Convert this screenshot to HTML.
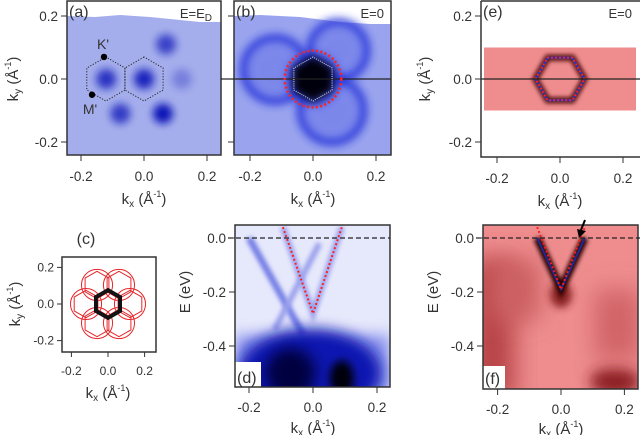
<!DOCTYPE html>
<html><head><meta charset="utf-8"><style>
html,body{margin:0;padding:0;background:#fff;}
svg{display:block;font-family:"Liberation Sans",sans-serif;}
text{fill:#333;}
</style></head><body>
<svg id="fig" width="640" height="435" viewBox="0 0 640 435" xmlns="http://www.w3.org/2000/svg">
<defs>
<filter id="b2" x="-50%" y="-50%" width="200%" height="200%"><feGaussianBlur stdDeviation="2"/></filter>
<filter id="b4" x="-50%" y="-50%" width="200%" height="200%"><feGaussianBlur stdDeviation="4"/></filter>
<filter id="b7" x="-50%" y="-50%" width="200%" height="200%"><feGaussianBlur stdDeviation="7"/></filter>
<filter id="b12" x="-50%" y="-50%" width="200%" height="200%"><feGaussianBlur stdDeviation="12"/></filter>
<clipPath id="ca"><rect x="67" y="1" width="154" height="154"/></clipPath>
<clipPath id="cb"><rect x="234" y="1" width="157" height="154"/></clipPath>
<clipPath id="cd"><rect x="235" y="225" width="155" height="162"/></clipPath>
<clipPath id="cf"><rect x="483" y="225" width="155" height="164"/></clipPath>
</defs>
<g id="root"></g>
</svg>
<script>
// ---- data ----
const kTicks = [-0.2, 0.0, 0.2];
const kTickLabels = ["-0.2", "0.0", "0.2"];
const eTicks = [0.0, -0.2, -0.4];
const eTickLabels = ["0.0", "-0.2", "-0.4"];
const aSpotsKx = [0.0, -0.12, -0.075, 0.06, 0.07, 0.12];
const aSpotsKy = [0.0, 0.0, -0.11, -0.11, 0.11, 0.0];
const aSpotsI  = [0.9, 0.8, 0.75, 1.0, 0.7, 0.3];
const aHexCx = [0.0, -0.121];
const aHexR = 0.07;
const aPointsKx = [-0.127, -0.165];
const aPointsKy = [0.07, -0.05];
const aPointsLbl = ["K'", "M'"];
const bRingKx = [-0.12, 0.06, 0.08, 0.0];
const bRingKy = [0.03, -0.1, 0.09, 0.0];
const bRingR  = [0.1, 0.1, 0.09, 0.07];
const bCircleR = 0.09;
const bHexR = 0.07;
const cAngles = [0, 60, 120, 180, 240, 300];
const cDist = 0.12;
const cCircR = 0.085;
const cHexR = 0.075;
const cCenterR = [0.07, 0.082];
const dVk = [-0.094, 0.0, 0.09];
const dVe = [0.04, -0.28, 0.04];
const dBandK1 = [-0.2, -0.03];
const dBandE1 = [0.0, -0.36];
const dBandK2 = [-0.12, 0.02];
const dBandE2 = [-0.34, -0.02];
const eHexR = 0.078;
const eBandKy = [0.1, -0.1];
const fVk = [-0.075, 0.0, 0.075];
const fVe = [0.04, -0.19, 0.04];

const NS = "http://www.w3.org/2000/svg";
const root = document.getElementById('root');
function mk(tag, attrs, parent, name) {
  const el = document.createElementNS(NS, tag);
  for (const k in attrs) el.setAttribute(k, attrs[k]);
  
  
  (parent || root).appendChild(el);
  return el;
}
function txt(x, y, s, size, anchor, parent, name, extra) {
  const t = mk('text', Object.assign({x: x, y: y, 'font-size': size, 'text-anchor': anchor || 'middle'}, extra || {}), parent, name);
  t.innerHTML = s;
  return t;
}
function axisX(k0px, scale) { return k => k0px + k * scale; }
function axisY(v0px, scale) { return v => v0px - v * scale; }
function hexPts(cx, cy, r, pointy, X, Y) {
  const pts = [];
  for (let i = 0; i < 6; i++) {
    const a = (pointy ? 90 : 0) + i * 60;
    const rad = a * Math.PI / 180;
    pts.push(X(cx + r * Math.cos(rad)).toFixed(1) + ',' + Y(cy + r * Math.sin(rad)).toFixed(1));
  }
  return pts.join(' ');
}
function frame(x, y, w, h, name) {
  mk('rect', {x: x, y: y, width: w, height: h, fill: 'none', stroke: '#333', 'stroke-width': 1.5}, root, name);
}
const TS = 13.5;
function xTicks(X, yBottom, labY, name) {
  kTicks.forEach((k, i) => {
    mk('line', {x1: X(k), x2: X(k), y1: yBottom, y2: yBottom + 6, stroke: '#333', 'stroke-width': 1}, root, name + '-tick');
    txt(X(k), labY, kTickLabels[i], TS, 'middle', root, name + '-tick-label');
  });
}
function yTicksK(Y, xLeft, name) {
  kTicks.forEach((k, i) => {
    mk('line', {x1: xLeft - 6, x2: xLeft, y1: Y(k), y2: Y(k), stroke: '#333', 'stroke-width': 1}, root, name + '-tick');
    txt(xLeft - 9, Y(k) + 5, kTickLabels[i], TS, 'end', root, name + '-tick-label');
  });
}
function yTicksE(Y, xLeft, name) {
  eTicks.forEach((e, i) => {
    mk('line', {x1: xLeft - 6, x2: xLeft, y1: Y(e), y2: Y(e), stroke: '#333', 'stroke-width': 1}, root, name + '-tick');
    txt(xLeft - 9, Y(e) + 5, eTickLabels[i], TS, 'end', root, name + '-tick-label');
  });
}
const kxLabel = 'k<tspan font-size="10" dy="3">x</tspan><tspan dy="-3"> (Å</tspan><tspan font-size="9" dy="-7">-1</tspan><tspan dy="7">)</tspan>';
const kyLabel = 'k<tspan font-size="10" dy="3">y</tspan><tspan dy="-3"> (Å</tspan><tspan font-size="9" dy="-7">-1</tspan><tspan dy="7">)</tspan>';
function xLabel(x, y, name) { txt(x, y, kxLabel, 15, 'middle', root, name); }
function yLabel(x, y, s, name) { txt(0, 0, s, 15, 'middle', root, name, {transform: 'translate(' + x + ',' + y + ') rotate(-90)'}); }

// ===== Panel (a) =====
(function(){
  const X = axisX(144, 315), Y = axisY(79, 315);
  const g = mk('g', {'clip-path': 'url(#ca)'}, root, 'panel-a-map');
  mk('rect', {x: 67, y: 1, width: 154, height: 154, fill: '#a5aeec'}, g, 'panel-a-background');
  mk('path', {d: 'M67,1 H221 V22 H200 L180,20 L150,17 L120,15 L95,17 L67,16 Z', fill: '#ffffff'}, g, 'panel-a-blank-edge');
  aSpotsKx.forEach((k, i) => {
    mk('circle', {cx: X(k), cy: Y(aSpotsKy[i]), r: 10, fill: '#0a18b8', opacity: aSpotsI[i], filter: 'url(#b4)'}, g, 'panel-a-spot');
  });
  aHexCx.forEach(c => {
    mk('polygon', {points: hexPts(c, 0, aHexR, true, X, Y), fill: 'none', stroke: '#222', 'stroke-width': 1, 'stroke-dasharray': '1.2,1.6'}, g, 'panel-a-brillouin-zone');
  });
  aPointsKx.forEach((k, i) => {
    mk('circle', {cx: X(k), cy: Y(aPointsKy[i]), r: 3.2, fill: '#000'}, g, 'panel-a-point-marker');
  });
  txt(X(aPointsKx[0]) - 1, Y(aPointsKy[0]) - 8, aPointsLbl[0], 14, 'middle', g, 'panel-a-label-k');
  txt(X(aPointsKx[1]) - 2, Y(aPointsKy[1]) + 19, aPointsLbl[1], 14, 'middle', g, 'panel-a-label-m');
  frame(67, 1, 154, 154, 'panel-a-frame');
  txt(69, 17, '(a)', 16, 'start', root, 'panel-a-tag');
  txt(212, 18, 'E=E<tspan font-size="10" dy="3">D</tspan>', 13, 'end', root, 'panel-a-energy-label');
  xTicks(X, 155, 181, 'panel-a-x');
  yTicksK(Y, 67, 'panel-a-y');
  xLabel(144, 204, 'panel-a-x-title');
  yLabel(18, 79, kyLabel, 'panel-a-y-title');
})();

// ===== Panel (b) =====
(function(){
  const X = axisX(313, 315), Y = axisY(79, 315);
  const g = mk('g', {'clip-path': 'url(#cb)'}, root, 'panel-b-map');
  mk('rect', {x: 234, y: 1, width: 157, height: 154, fill: '#9aa4ee'}, g, 'panel-b-background');
  mk('path', {d: 'M234,1 H391 V24 H370 L340,22 L300,17 L260,15 L234,16 Z', fill: '#ffffff'}, g, 'panel-b-blank-edge');
  bRingKx.forEach((k, i) => {
    mk('circle', {cx: X(k), cy: Y(bRingKy[i]), r: bRingR[i] * 315, fill: '#5866e6', opacity: 0.45, filter: 'url(#b7)'}, g, 'panel-b-ring-fill');
    mk('circle', {cx: X(k), cy: Y(bRingKy[i]), r: bRingR[i] * 315, fill: 'none', stroke: '#1c2ad8', 'stroke-width': 8, opacity: 0.75, filter: 'url(#b4)'}, g, 'panel-b-ring');
  });
  mk('polygon', {points: hexPts(0, 0, bHexR * 1.05, true, X, Y), fill: '#000010', filter: 'url(#b4)'}, g, 'panel-b-center-pocket');
  mk('line', {x1: 234, x2: 391, y1: Y(0), y2: Y(0), stroke: '#222', 'stroke-width': 1.2}, g, 'panel-b-cut-line');
  mk('polygon', {points: hexPts(0, 0, bHexR, true, X, Y), fill: 'none', stroke: '#ddd', 'stroke-width': 1, 'stroke-dasharray': '1,1.2'}, g, 'panel-b-white-hexagon');
  mk('circle', {cx: X(0), cy: Y(0), r: bCircleR * 315, fill: 'none', stroke: '#ff2020', 'stroke-width': 2.5, 'stroke-dasharray': '2,2.4'}, g, 'panel-b-red-circle');
  frame(234, 1, 157, 154, 'panel-b-frame');
  txt(236, 17, '(b)', 16, 'start', root, 'panel-b-tag');
  txt(384, 18, 'E=0', 13, 'end', root, 'panel-b-energy-label');
  xTicks(X, 155, 181, 'panel-b-x');
  kTicks.forEach(k => mk('line', {x1: 228, x2: 234, y1: Y(k), y2: Y(k), stroke: '#333'}, root, 'panel-b-y-tick'));
  mk('line', {x1: 221, x2: 234, y1: Y(0), y2: Y(0), stroke: '#222', 'stroke-width': 1.2}, root, 'panel-b-cut-line-ext');
  xLabel(313, 204, 'panel-b-x-title');
})();

// ===== Panel (e) =====
(function(){
  const X = axisX(560, 315), Y = axisY(79, 315);
  const g = mk('g', {}, root, 'panel-e-map');
  mk('rect', {x: 484, y: Y(eBandKy[0]), width: 152, height: Y(eBandKy[1]) - Y(eBandKy[0]), fill: '#ee8c8e'}, g, 'panel-e-band');
  mk('polygon', {points: hexPts(0, 0, eHexR, false, X, Y), fill: 'none', stroke: '#4a0808', 'stroke-width': 6, filter: 'url(#b2)'}, g, 'panel-e-hexagon-intensity');
  mk('polygon', {points: hexPts(0, 0, eHexR, false, X, Y), fill: 'none', stroke: '#2233cc', 'stroke-width': 2}, g, 'panel-e-hexagon-blue');
  mk('polygon', {points: hexPts(0, 0, eHexR, false, X, Y), fill: 'none', stroke: '#ff2020', 'stroke-width': 2, 'stroke-dasharray': '1.8,2.2'}, g, 'panel-e-hexagon-fit');
  mk('line', {x1: 481, x2: 640, y1: Y(0), y2: Y(0), stroke: '#222', 'stroke-width': 1.2}, g, 'panel-e-cut-line');
  mk('path', {d: 'M481,1 V157 H640', fill: 'none', stroke: '#333', 'stroke-width': 1.5}, root, 'panel-e-frame');
  mk('line', {x1: 481, x2: 640, y1: 1, y2: 1, stroke: '#333', 'stroke-width': 1.5}, root, 'panel-e-frame-top');
  txt(483, 17, '(e)', 16, 'start', root, 'panel-e-tag');
  txt(632, 18, 'E=0', 13, 'end', root, 'panel-e-energy-label');
  kTicks.forEach((k, i) => {
    mk('line', {x1: X(k), x2: X(k), y1: 157, y2: 163, stroke: '#333'}, root, 'panel-e-x-tick');
    txt(X(k), 183, kTickLabels[i], TS, 'middle', root, 'panel-e-x-tick-label');
  });
  yTicksK(Y, 481, 'panel-e-y');
  xLabel(560, 206, 'panel-e-x-title');
  yLabel(430, 79, kyLabel, 'panel-e-y-title');
})();

// ===== Panel (c) =====
(function(){
  const X = axisX(108, 183), Y = axisY(304, 183);
  const g = mk('g', {}, root, 'panel-c-diagram');
  mk('rect', {x: 62, y: 257, width: 94, height: 95, fill: '#fff', stroke: '#333', 'stroke-width': 1.5}, g, 'panel-c-frame');
  cAngles.forEach(a => {
    const r = a * Math.PI / 180;
    const cx = cDist * Math.cos(r), cy = cDist * Math.sin(r);
    mk('circle', {cx: X(cx), cy: Y(cy), r: cCircR * 183, fill: 'none', stroke: '#e8262a', 'stroke-width': 1}, g, 'panel-c-replica-circle');
    mk('polygon', {points: hexPts(cx, cy, cHexR, true, X, Y), fill: 'none', stroke: '#e8262a', 'stroke-width': 1}, g, 'panel-c-replica-hex');
  });
  cCenterR.forEach(rr => mk('polygon', {points: hexPts(0, 0, rr, true, X, Y), fill: 'none', stroke: '#111', 'stroke-width': 2}, g, 'panel-c-center-hex'));
  txt(86, 244, '(c)', 16, 'middle', root, 'panel-c-tag');
  kTicks.forEach((k, i) => {
    mk('line', {x1: X(k), x2: X(k), y1: 352, y2: 357, stroke: '#333'}, root, 'panel-c-x-tick');
    txt(X(k), 375, kTickLabels[i], 12, 'middle', root, 'panel-c-x-tick-label');
    mk('line', {x1: 57, x2: 62, y1: Y(k), y2: Y(k), stroke: '#333'}, root, 'panel-c-y-tick');
    txt(54, Y(k) + 4, kTickLabels[i], 12, 'end', root, 'panel-c-y-tick-label');
  });
  xLabel(108, 398, 'panel-c-x-title');
  yLabel(20, 304, kyLabel, 'panel-c-y-title');
})();

// ===== Panel (d) =====
(function(){
  const X = axisX(313, 320), Y = axisY(238, 270);
  const g = mk('g', {'clip-path': 'url(#cd)'}, root, 'panel-d-map');
  mk('rect', {x: 235, y: 225, width: 155, height: 162, fill: '#e6e8fb'}, g, 'panel-d-background');
  mk('rect', {x: 235, y: 335, width: 155, height: 60, fill: '#8c95ee', filter: 'url(#b7)'}, g, 'panel-d-lower-glow');
  mk('line', {x1: X(dBandK1[0]), y1: Y(dBandE1[0]), x2: X(dBandK1[1]), y2: Y(dBandE1[1]), stroke: '#7680e6', 'stroke-width': 7, filter: 'url(#b2)'}, g, 'panel-d-band-left');
  mk('line', {x1: X(dBandK2[0]), y1: Y(dBandE2[0]), x2: X(dBandK2[1]), y2: Y(dBandE2[1]), stroke: '#9aa0ec', 'stroke-width': 6, filter: 'url(#b2)'}, g, 'panel-d-band-cross');
  mk('polyline', {points: dVk.map((k, i) => X(k) + ',' + Y(dVe[i])).join(' '), fill: 'none', stroke: '#9aa0ec', 'stroke-width': 6, filter: 'url(#b2)'}, g, 'panel-d-v-band');
  mk('ellipse', {cx: X(-0.01), cy: Y(-0.5), rx: 72, ry: 44, fill: '#0b12b0', filter: 'url(#b7)'}, g, 'panel-d-valence-blob');
  mk('ellipse', {cx: X(-0.07), cy: Y(-0.5), rx: 25, ry: 25, fill: '#000040', filter: 'url(#b7)'}, g, 'panel-d-dark-spot');
  mk('ellipse', {cx: X(0.09), cy: Y(-0.52), rx: 12, ry: 18, fill: '#000010', filter: 'url(#b4)'}, g, 'panel-d-dark-spot-right');
  mk('polyline', {points: dVk.map((k, i) => X(k) + ',' + Y(dVe[i])).join(' '), fill: 'none', stroke: '#ff1a1a', 'stroke-width': 2, 'stroke-dasharray': '1.8,2.4'}, g, 'panel-d-dispersion-fit');
  mk('rect', {x: 235, y: 362, width: 26, height: 26, fill: '#fff'}, g, 'panel-d-tag-bg');
  frame(235, 225, 155, 162, 'panel-d-frame');
  mk('line', {x1: 228, x2: 390, y1: Y(0), y2: Y(0), stroke: '#222', 'stroke-width': 1.2, 'stroke-dasharray': '5,3'}, root, 'panel-d-fermi-level');
  txt(237, 383, '(d)', 16, 'start', root, 'panel-d-tag');
  xTicks(X, 387, 412, 'panel-d-x');
  yTicksE(Y, 235, 'panel-d-y');
  xLabel(313, 433, 'panel-d-x-title');
  yLabel(190, 292, 'E (eV)', 'panel-d-y-title');
})();

// ===== Panel (f) =====
(function(){
  const X = axisX(561, 317), Y = axisY(238, 270);
  const g = mk('g', {'clip-path': 'url(#cf)'}, root, 'panel-f-map');
  mk('rect', {x: 483, y: 225, width: 155, height: 164, fill: '#ee8c8e'}, g, 'panel-f-background');
  mk('rect', {x: 470, y: 260, width: 45, height: 140, fill: '#b84446', filter: 'url(#b12)'}, g, 'panel-f-left-dark');
  mk('rect', {x: 490, y: 260, width: 50, height: 60, fill: '#cc6062', filter: 'url(#b12)'}, g, 'panel-f-left-dark2');
  mk('ellipse', {cx: X(0.17), cy: Y(-0.53), rx: 25, ry: 14, fill: '#8a1e20', filter: 'url(#b7)'}, g, 'panel-f-right-dark');
  mk('rect', {x: 595, y: 290, width: 45, height: 70, fill: '#d06466', filter: 'url(#b12)'}, g, 'panel-f-right-shade');
  mk('ellipse', {cx: X(0), cy: Y(-0.21), rx: 11, ry: 13, fill: '#8a2022', filter: 'url(#b4)'}, g, 'panel-f-apex-glow');
  mk('polyline', {points: fVk.map((k, i) => X(k) + ',' + Y(Math.min(fVe[i], 0))).join(' '), fill: 'none', stroke: '#2a0404', 'stroke-width': 8, filter: 'url(#b2)'}, g, 'panel-f-v-band');
  mk('polyline', {points: fVk.map((k, i) => X(k) + ',' + Y(Math.min(fVe[i], 0))).join(' '), fill: 'none', stroke: '#1a2a9a', 'stroke-width': 2}, g, 'panel-f-v-band-core');
  mk('polyline', {points: fVk.map((k, i) => X(k) + ',' + Y(fVe[i])).join(' '), fill: 'none', stroke: '#ff1a1a', 'stroke-width': 2, 'stroke-dasharray': '1.8,2.4'}, g, 'panel-f-dispersion-fit');
  mk('rect', {x: 483, y: 366, width: 22, height: 24, fill: '#fff'}, g, 'panel-f-tag-bg');
  frame(483, 225, 155, 164, 'panel-f-frame');
  mk('line', {x1: 476, x2: 640, y1: Y(0), y2: Y(0), stroke: '#222', 'stroke-width': 1.2, 'stroke-dasharray': '5,3'}, root, 'panel-f-fermi-level');
  mk('line', {x1: 585, y1: 220, x2: 581, y2: 230, stroke: '#000', 'stroke-width': 2}, root, 'panel-f-arrow-shaft');
  mk('polygon', {points: '577,229 586,231 579,238', fill: '#000'}, root, 'panel-f-arrow-head');
  txt(485, 384, '(f)', 16, 'start', root, 'panel-f-tag');
  kTicks.forEach((k, i) => {
    mk('line', {x1: X(k), x2: X(k), y1: 389, y2: 395, stroke: '#333'}, root, 'panel-f-x-tick');
    txt(X(k), 414, kTickLabels[i], TS, 'middle', root, 'panel-f-x-tick-label');
  });
  yTicksE(Y, 483, 'panel-f-y');
  xLabel(561, 434, 'panel-f-x-title');
  yLabel(438, 292, 'E (eV)', 'panel-f-y-title');
})();
</script>
</body></html>
